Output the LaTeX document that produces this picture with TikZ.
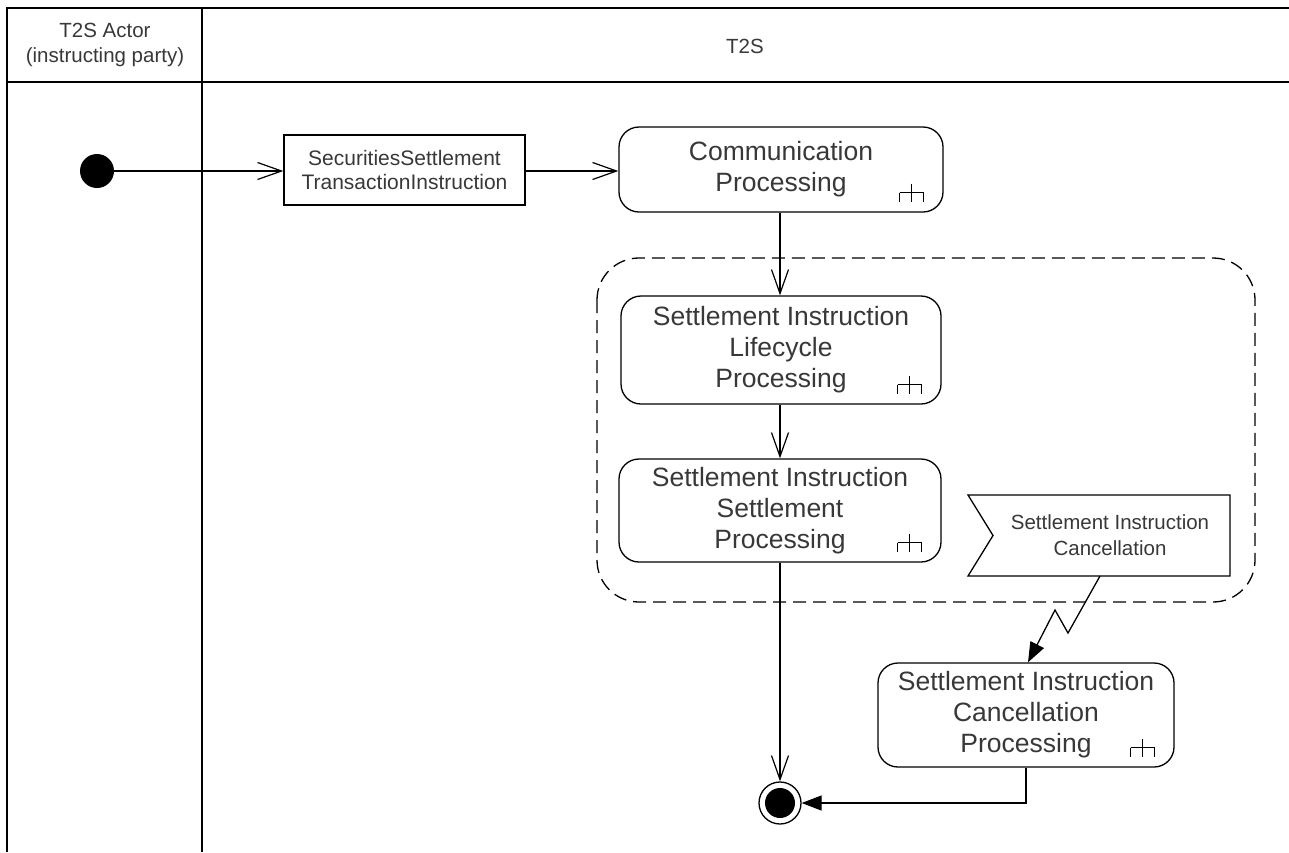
\documentclass[tikz,border=0pt]{standalone}
\usepackage{fontspec}
\setmainfont{Liberation Sans}
\usetikzlibrary{arrows.meta}
\definecolor{txt}{HTML}{383838}
\tikzset{
  every node/.style={text=txt, align=center},
  lane/.style={line width=1.8pt, black},
  action/.style={draw, line width=1.3pt, rounded corners=20pt, font=\fontsize{26.5}{31}\selectfont},
  objbox/.style={draw, line width=1.3pt, font=\fontsize{21}{24}\selectfont},
  flow/.style={line width=1.3pt, -{Straight Barb[length=24pt,width=17pt,line width=1.2pt]}},
  solidflow/.style={line width=1.3pt, -{Triangle[length=20pt,width=15pt]}},
  rakeline/.style={line width=1.3pt},
}
\newcommand{\rakeat}[1]{%
  \draw[rakeline] ([shift={(-44pt,20pt)}]#1) -- ([shift={(-20pt,20pt)}]#1)
    ([shift={(-44pt,20pt)}]#1) -- ([shift={(-44pt,11pt)}]#1)
    ([shift={(-20pt,20pt)}]#1) -- ([shift={(-20pt,11pt)}]#1)
    ([shift={(-32pt,29pt)}]#1) -- ([shift={(-32pt,11pt)}]#1);}
\begin{document}
\begin{tikzpicture}[x=1pt,y=-1pt]
\useasboundingbox (0,0) rectangle (1289,852);
% swimlanes
\draw[lane] (7,852) -- (7,8) -- (1289,8);
\draw[lane] (7,82) -- (1289,82);
\draw[lane] (202,8) -- (202,852);
\node[font=\fontsize{20.5}{25}\selectfont] (h1) at (105,45) {T2S Actor\\(instructing party)};
\node[font=\fontsize{20.5}{25}\selectfont] (h2) at (745,46) {T2S};
% dashed region
\draw[line width=1.3pt, dash pattern=on 13pt off 7pt, rounded corners=42pt] (597,258) rectangle (1255,602);
% nodes
\node[circle, fill=black, minimum size=34pt, inner sep=0pt] (init) at (97,171) {};
\node[objbox, minimum width=241pt, minimum height=70pt, inner sep=0pt] (obj) at (404.5,170) {SecuritiesSettlement\\TransactionInstruction};
\node[action, minimum width=324pt, minimum height=85pt, inner sep=0pt] (comm) at (781,169.5) {Communication\\Processing};
\node[action, minimum width=320pt, minimum height=108pt, inner sep=0pt] (sil) at (781,350) {Settlement Instruction\\Lifecycle\\Processing};
\node[action, minimum width=322pt, minimum height=103pt, inner sep=0pt] (sis) at (780,510.5) {Settlement Instruction\\Settlement\\Processing};
\node[action, minimum width=296pt, minimum height=104pt, inner sep=0pt] (sicp) at (1026,715) {Settlement Instruction\\Cancellation\\Processing};
\rakeat{comm.south east}
\rakeat{sil.south east}
\rakeat{sis.south east}
\rakeat{sicp.south east}
% accept signal
\coordinate (sgnw) at (968,495);
\coordinate (sgne) at (1230,495);
\coordinate (sgse) at (1230,576);
\coordinate (sgsw) at (968,576);
\coordinate (sgnotch) at (993,535.5);
\draw[line width=1.3pt] (sgnw) -- (sgne) -- (sgse) -- (sgsw) -- (sgnotch) -- cycle;
\node[font=\fontsize{20.5}{26}\selectfont] (sig) at (1110,535.5) {Settlement Instruction\\Cancellation};
\coordinate (sigout) at (1100,576);
% final node
\node[circle, draw, line width=1.3pt, minimum size=42pt, inner sep=0pt] (final) at (780,803) {};
\node[circle, fill=black, minimum size=30pt, inner sep=0pt] (finalin) at (final) {};
% connectors
\draw[flow] (init) -- (init -| obj.west);
\draw[flow] (init -| obj.east) -- (init -| comm.west);
\draw[flow] (comm.south -| 780,0) -- (sil.north -| 780,0);
\draw[flow] (sil.south -| 780,0) -- (sis.north -| 780,0);
\draw[flow] (sis.south) -- (final.north);
\coordinate (z1) at (1068,633);
\coordinate (z2) at (1055,610);
\draw[solidflow] (sigout) -- (z1) -- (z2) -- ([xshift=2pt]sicp.north);
\draw[solidflow] (sicp.south) |- (final.east);
\end{tikzpicture}
\end{document}
